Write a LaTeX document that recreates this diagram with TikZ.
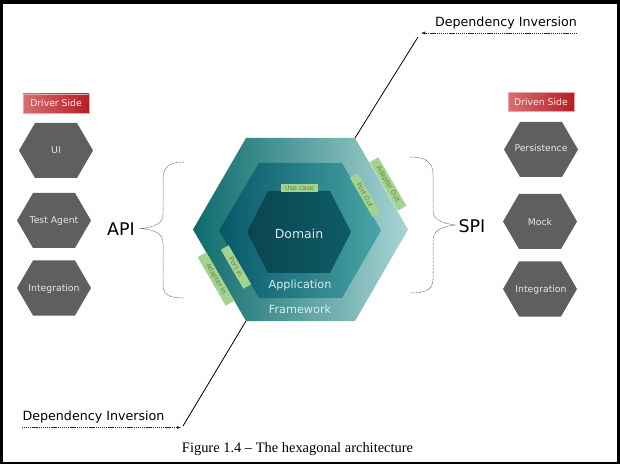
\documentclass[tikz,border=0pt]{standalone}
\usepackage{fontspec}
\newfontfamily\diafont{DejaVu Sans}
\newfontfamily\capfont{Liberation Serif}
\usetikzlibrary{arrows.meta}
\definecolor{hexgray}{HTML}{5F5F5F}
\definecolor{hextext}{HTML}{E8E8E8}
\definecolor{fwL}{HTML}{0E6B6B}
\definecolor{fwM}{HTML}{3F9494}
\definecolor{fwR}{HTML}{A8D4D4}
\definecolor{apL}{HTML}{065868}
\definecolor{apM}{HTML}{0A6A78}
\definecolor{apR}{HTML}{4AA4A6}
\definecolor{doL}{HTML}{0A4550}
\definecolor{doR}{HTML}{0E5C66}
\definecolor{coretext}{HTML}{D8ECEC}
\definecolor{tagfill}{HTML}{A2D490}
\definecolor{tagtext}{HTML}{6D8040}
\definecolor{redL}{HTML}{D96E70}
\definecolor{redR}{HTML}{B51E26}
\definecolor{bracegray}{HTML}{555555}
\tikzset{
  ghex/.pic={\fill[hexgray] (-37,0) -- (-21,-27.5) -- (21,-27.5) -- (37,0) -- (21,27.5) -- (-21,27.5) -- cycle;},
  hexlabel/.style={text=hextext, font=\diafont\fontsize{9.3}{11}\selectfont, inner sep=0pt},
  corelabel/.style={text=coretext, font=\diafont\fontsize{11.3}{13}\selectfont, inner sep=0pt},
  tag/.style={fill=tagfill, text=tagtext, font=\diafont\fontsize{6.6}{7}\selectfont, inner sep=0pt, minimum height=9bp},
  sidebox/.style={left color=redL, right color=redR, draw=redL!60, line width=0.4bp, text=white!92!red, font=\diafont\fontsize{9.3}{11}\selectfont, minimum width=66bp, minimum height=19bp, inner sep=0pt},
  bigtext/.style={font=\diafont\fontsize{17.5}{20}\selectfont, inner sep=0pt},
  ditext/.style={font=\diafont\fontsize{12.7}{15}\selectfont, inner sep=0pt},
  dilink/.style={draw=black!85, line width=0.5bp, dash pattern=on 1.2bp off 0.7bp, -{Latex[length=4bp,width=3bp]}},
  dline/.style={draw=black, line width=0.8bp},
  bracestyle/.style={draw=bracegray, line width=0.5bp, dash pattern=on 0.8bp off 0.6bp}
}
\begin{document}
\begin{tikzpicture}[x=1bp,y=-1bp]
\useasboundingbox (0,0) rectangle (620,464);
\fill[white] (0,0) rectangle (620,464);
% frame
\fill[black] (0,0) rectangle (620,4);
\fill[black] (0,0) rectangle (2.5,464);
\fill[black] (616.5,0) rectangle (620,464);
\fill[black] (0,461.8) rectangle (620,464);

% framework hexagon
\coordinate (fwL) at (193,229.5);
\coordinate (fwTL) at (246,138);
\coordinate (fwTR) at (355,138);
\coordinate (fwR) at (408,229.5);
\coordinate (fwBR) at (355,321);
\coordinate (fwBL) at (246,321);
\path[left color=fwL, middle color=fwM, right color=fwR] (fwL) -- (fwTL) -- (fwTR) -- (fwR) -- (fwBR) -- (fwBL) -- cycle;
% application hexagon
\coordinate (apL) at (219,230.5);
\coordinate (apTL) at (259,163);
\coordinate (apTR) at (342,163);
\coordinate (apR) at (381,230.5);
\coordinate (apBR) at (342,298);
\coordinate (apBL) at (259,298);
\path[left color=apL, middle color=apM, right color=apR] (apL) -- (apTL) -- (apTR) -- (apR) -- (apBR) -- (apBL) -- cycle;
% domain hexagon
\coordinate (doL) at (247,232);
\coordinate (doTL) at (268,191);
\coordinate (doTR) at (330,191);
\coordinate (doR) at (351,232);
\coordinate (doBR) at (330,273);
\coordinate (doBL) at (268,273);
\path[left color=doL, right color=doR] (doL) -- (doTL) -- (doTR) -- (doR) -- (doBR) -- (doBL) -- cycle;

\node[corelabel, font=\diafont\fontsize{12.5}{14}\selectfont] (domain) at (299,234) {Domain};
\node[corelabel] (application) at (300,285) {Application};
\node[corelabel] (framework) at (300,309) {Framework};

% tags
\node[tag, minimum width=37bp, minimum height=8bp] (usecase) at (299.5,188) {Use case};
\node[tag, rotate=-60, minimum width=45bp] (portout) at (365,195) {Port Out};
\node[tag, rotate=-60, minimum width=56bp, minimum height=10bp] (adapterout) at (388,184) {Adapter Out};
\node[tag, rotate=-60, minimum width=45bp] (portin) at (236,267) {Port In};
\node[tag, rotate=-60, minimum width=56bp, minimum height=10bp] (adapterin) at (216,279) {Adapter In};

% driver side
\node[sidebox] (driver) at (56,103.5) {Driver Side};
\pic at (56,150.5) {ghex};
\node[hexlabel] (ui) at (56,150.5) {UI};
\pic at (54,220.5) {ghex};
\node[hexlabel] (testagent) at (54,221) {Test Agent};
\pic at (54,288) {ghex};
\node[hexlabel] (integrationL) at (54,289) {Integration};

% driven side
\node[sidebox] (driven) at (541,102) {Driven Side};
\pic at (541,149.5) {ghex};
\node[hexlabel] (persistence) at (541,148.5) {Persistence};
\pic at (540,221.5) {ghex};
\node[hexlabel] (mock) at (540,222) {Mock};
\pic at (540,289) {ghex};
\node[hexlabel] (integrationR) at (541,290) {Integration};

% API / SPI
\node[bigtext] (api) at (121,229) {API};
\node[bigtext] (spi) at (472,226) {SPI};
\draw[bracestyle] (184,162) .. controls (168,162) and (163,168) .. (163,180) -- (163,214)
  .. controls (163,223) and (156,227) .. (141,228.5)
  .. controls (156,230) and (163,234) .. (163,244) -- (163,284)
  .. controls (163,294) and (168,298) .. (184,298);
\draw[bracestyle] (410,157) .. controls (427,157) and (433,163) .. (433,175) -- (433,210)
  .. controls (433,219) and (440,223) .. (455,225)
  .. controls (440,227) and (433,231) .. (433,241) -- (433,279)
  .. controls (433,289) and (427,293) .. (410,293);

% dependency inversion top
\node[ditext] (ditop) at (506,23) {Dependency Inversion};
\coordinate (ditopR) at (577,33);
\coordinate (ditopTip) at (421,33);
\coordinate (ditopLine) at (418,37);
\draw[dilink] (ditopR) -- (ditopTip);
\draw[dline] (ditopLine) -- (fwTR);

% dependency inversion bottom
\node[ditext] (dibot) at (93.5,417) {Dependency Inversion};
\coordinate (dibotL) at (22,427.5);
\coordinate (dibotTip) at (181,427.5);
\coordinate (dibotLine) at (183,426);
\draw[dilink] (dibotL) -- (dibotTip);
\draw[dline] (dibotLine) -- (fwBL);

% caption
\node[font=\capfont\fontsize{14.5}{17}\selectfont, inner sep=0pt] (caption) at (297.5,449) {Figure 1.4 – The hexagonal architecture};
\end{tikzpicture}
\end{document}
